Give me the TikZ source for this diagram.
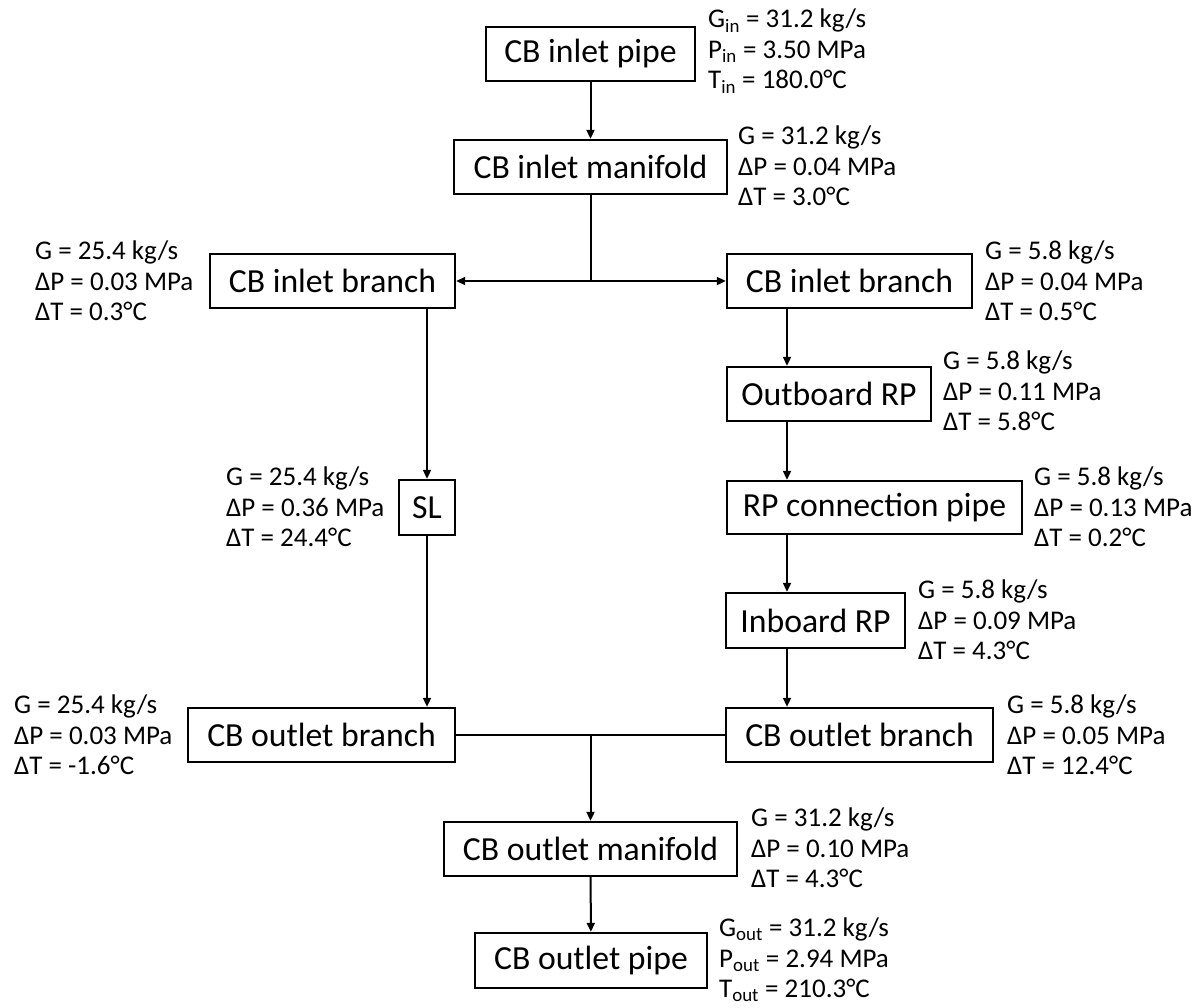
\documentclass[tikz,border=0pt]{standalone}
\usepackage{fontspec}
\setmainfont{Carlito}
\usetikzlibrary{arrows.meta}
\begin{document}
\begin{tikzpicture}[x=1pt,y=-1pt,
  box/.style={draw, line width=2.4pt, inner sep=0pt, font=\fontsize{33.7}{40}\selectfont},
  lab/.style={anchor=west, align=left, inner sep=0pt, font=\fontsize{27}{30.5}\selectfont},
  conn/.style={line width=2pt},
  arr/.style={conn, -{Triangle[length=9pt,width=8pt]}},
  darr/.style={conn, {Triangle[length=9pt,width=8pt]}-{Triangle[length=9pt,width=8pt]}}]
\fill[white] (0,0) rectangle (1204,1007);
\useasboundingbox (0,0) rectangle (1204,1007);

% boxes
\node[box, minimum width=209pt, minimum height=54pt] (inpipe) at (590.5,54) {CB inlet pipe};
\node[box, minimum width=273pt, minimum height=54pt] (inman) at (590.5,167) {CB inlet manifold};
\node[box, minimum width=245pt, minimum height=54pt] (lib) at (332.5,281) {CB inlet branch};
\node[box, minimum width=245pt, minimum height=54pt] (rib) at (849.5,281) {CB inlet branch};
\node[box, minimum width=204pt, minimum height=54pt] (ob) at (829,394) {Outboard RP};
\node[box, minimum width=295pt, minimum height=53pt] (rpc) at (874.5,507.5) {RP connection pipe};
\node[box, minimum width=56pt, minimum height=55pt] (sl) at (427,507.5) {SL};
\node[box, minimum width=179pt, minimum height=55pt] (ib) at (815.5,620.5) {Inboard RP};
\node[box, minimum width=267pt, minimum height=54pt] (lob) at (321.5,735) {CB outlet branch};
\node[box, minimum width=267pt, minimum height=54pt] (rob) at (859.5,735) {CB outlet branch};
\node[box, minimum width=293pt, minimum height=54pt] (outman) at (590.5,849) {CB outlet manifold};
\node[box, minimum width=232pt, minimum height=55pt] (outpipe) at (591,960.5) {CB outlet pipe};

% labels
\node[lab] (Linpipe) at (708,51) {G\textsubscript{in} = 31.2 kg/s\\P\textsubscript{in} = 3.50 MPa\\T\textsubscript{in} = 180.0°C};
\node[lab] (Linman) at (738,166) {G = 31.2 kg/s\\ΔP = 0.04 MPa\\ΔT = 3.0°C};
\node[lab] (Llib) at (35,281) {G = 25.4 kg/s\\ΔP = 0.03 MPa\\ΔT = 0.3°C};
\node[lab] (Lrib) at (985,281) {G = 5.8 kg/s\\ΔP = 0.04 MPa\\ΔT = 0.5°C};
\node[lab] (Lob) at (943,391) {G = 5.8 kg/s\\ΔP = 0.11 MPa\\ΔT = 5.8°C};
\node[lab] (Lrpc) at (1034,507) {G = 5.8 kg/s\\ΔP = 0.13 MPa\\ΔT = 0.2°C};
\node[lab] (Lsl) at (226,507) {G = 25.4 kg/s\\ΔP = 0.36 MPa\\ΔT = 24.4°C};
\node[lab] (Lib) at (918,620) {G = 5.8 kg/s\\ΔP = 0.09 MPa\\ΔT = 4.3°C};
\node[lab] (Llob) at (14,735) {G = 25.4 kg/s\\ΔP = 0.03 MPa\\ΔT = -1.6°C};
\node[lab] (Lrob) at (1007,735) {G = 5.8 kg/s\\ΔP = 0.05 MPa\\ΔT = 12.4°C};
\node[lab] (Loutman) at (751,848) {G = 31.2 kg/s\\ΔP = 0.10 MPa\\ΔT = 4.3°C};
\node[lab] (Loutpipe) at (719,960) {G\textsubscript{out} = 31.2 kg/s\\P\textsubscript{out} = 2.94 MPa\\T\textsubscript{out} = 210.3°C};

% helper coordinates
\coordinate (rx) at (787,0);
\coordinate (jin) at (inman.south |- lib.east);
\coordinate (jout) at (outman.north |- lob.east);

% connectors
\draw[arr] (inpipe) -- (inman);
\draw[conn] (inman.south) -- (jin);
\draw[darr] (lib.east) -- (rib.west);
\draw[arr] (sl.north |- lib.south) -- (sl.north);
\draw[arr] (sl.south) -- (sl.south |- lob.north);
\draw[arr] (rx |- rib.south) -- (rx |- ob.north);
\draw[arr] (rx |- ob.south) -- (rx |- rpc.north);
\draw[arr] (rx |- rpc.south) -- (rx |- ib.north);
\draw[arr] (rx |- ib.south) -- (rx |- rob.north);
\draw[conn] (lob.east) -- (rob.west);
\draw[arr] (jout) -- (outman.north);
\draw[arr] (outman) -- (outpipe);
\end{tikzpicture}
\end{document}
